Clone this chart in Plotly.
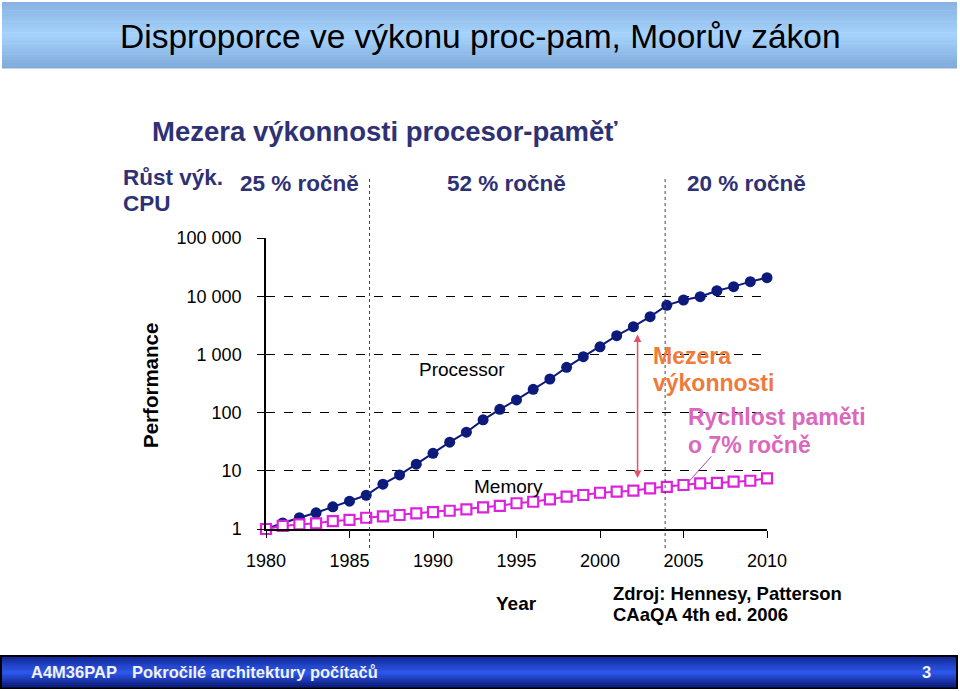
"""Mezera výkonnosti procesor-paměť (Hennessy & Patterson) jako graf v Plotly."""
import numpy as np
import plotly.graph_objects as go

W, H = 960, 691

years = list(range(1980, 2011))

# Výkon relativně k roku 1980
processor = [1, 1.27, 1.56, 1.9, 2.4, 3.0, 3.8, 5.9, 8.5, 13, 20, 31, 46, 75, 114,
             165, 251, 378, 600, 912, 1350, 2100, 2990, 4450, 6970, 8600, 9800,
             12400, 14600, 17800, 20800]
memory = [1, 1.13, 1.2, 1.25, 1.37, 1.43, 1.56, 1.65, 1.74, 1.85, 1.95, 2.06, 2.18,
          2.36, 2.5, 2.77, 2.94, 3.24, 3.6, 3.84, 4.2, 4.37, 4.55, 5.0, 5.3, 5.7,
          6.1, 6.2, 6.5, 6.75, 7.4]

y_ticks = [1, 10, 100, 1000, 10000, 100000]
y_tick_labels = ['1', '10', '100', '1 000', '10 000', '100 000']
x_ticks = list(range(1980, 2011, 5))

era_breaks = [1986.2, 2003.9]
era_labels = ['25 % ročně', '52 % ročně', '20 % ročně']
era_centers = [1982.0, 1994.4, 2008.8]

# šipka mezery a spojnice popisku paměti (rok, výkon)
gap_arrow = dict(x=2002.25, low=7.5, high=2330)
mem_pointer = dict(x0=2005.25, y0=6.2, x1=2006.75, y1=18.7)

NAVY = '#2E3174'
FONT = 'Liberation Sans, Arial, sans-serif'
NARROW = 'Liberation Sans Narrow, Arial Narrow, Liberation Sans, Arial, sans-serif'


def px(x, y):
    return x / W, 1 - y / H


def mix(c1, c2, t):
    a = [int(c1[i:i + 2], 16) for i in (1, 3, 5)]
    b = [int(c2[i:i + 2], 16) for i in (1, 3, 5)]
    return '#' + ''.join(f'{round(a[k] + (b[k] - a[k]) * t):02x}' for k in range(3))


def gradient_bar(x0, y0, x1, y1, top, mid, bottom, steps=24):
    shapes = []
    for i in range(steps):
        t = i / (steps - 1)
        col = mix(top, mid, t * 2) if t < 0.5 else mix(mid, bottom, (t - 0.5) * 2)
        ya = y0 + (y1 - y0) * i / steps
        yb = y0 + (y1 - y0) * (i + 1) / steps + 0.5
        shapes.append(dict(type='rect', xref='paper', yref='paper', layer='below',
                           x0=x0 / W, x1=x1 / W, y0=1 - yb / H, y1=1 - ya / H,
                           fillcolor=col, line=dict(width=0)))
    return shapes


fig = go.Figure()

fig.add_trace(go.Scatter(
    x=years, y=processor, mode='lines+markers', name='Processor',
    line=dict(color='#0C1A7C', width=2),
    marker=dict(symbol='circle', size=11, color='#0C1A7C'),
    cliponaxis=False,
))
fig.add_trace(go.Scatter(
    x=years, y=memory, mode='lines+markers', name='Memory',
    line=dict(color='#DD22DD', width=2),
    marker=dict(symbol='square', size=10, color='white', line=dict(width=2.2, color='#DD22DD')),
    cliponaxis=False,
))

shapes = []
shapes += gradient_bar(2, 2, 957, 68, '#88B3E3', '#A5D3FC', '#80ABDB')
shapes.append(dict(type='rect', xref='paper', yref='paper', x0=0 / W, x1=958 / W,
                   y0=1 - 689 / H, y1=1 - 655 / H, fillcolor='black', line=dict(width=0),
                   layer='below'))
shapes += gradient_bar(2, 657, 956, 687, '#142A9A', '#2E5AF0', '#0E1F80', steps=16)
for xb in era_breaks:
    shapes.append(dict(type='line', xref='x', yref='paper', x0=xb, x1=xb,
                       y0=1 - 548 / H, y1=1 - 176 / H,
                       line=dict(color='#444444', width=1, dash='dot')))

annotations = []


def label(text, x, y, size, color='black', bold=False, xanchor='center', family=FONT, **kw):
    ax, ay = px(x, y)
    if bold:
        text = f'<b>{text}</b>'
    annotations.append(dict(text=text, x=ax, y=ay, xref='paper', yref='paper',
                            xanchor=xanchor, yanchor='middle', showarrow=False,
                            font=dict(size=size, color=color, family=family), **kw))


label('Disproporce ve výkonu proc-pam, Moorův zákon', 480, 37, 33.5, family=NARROW)
label('Mezera výkonnosti procesor-paměť', 150, 132, 27.5, NAVY, True, 'left')
label('Růst výk.', 121, 177, 22.5, NAVY, True, 'left')
label('CPU', 121, 203, 22.5, NAVY, True, 'left')
for txt, xc in zip(era_labels, era_centers):
    annotations.append(dict(text=f'<b>{txt}</b>', x=xc, y=1 - 183 / H, xref='x', yref='paper',
                            xanchor='center', yanchor='middle', showarrow=False,
                            font=dict(size=22.5, color=NAVY, family=FONT)))
label('Performance', 150, 386, 20.5, bold=True, textangle=-90)
label('Processor', 462, 369, 19)
label('Memory', 508, 487, 19)
label('Year', 516, 603, 19, bold=True)
label('Zdroj: Hennesy, Patterson', 611, 593, 18.5, bold=True, xanchor='left')
label('CAaQA 4th ed. 2006', 611, 614, 18.5, bold=True, xanchor='left')
label('Mezera', 651, 356, 23, '#EE7A3C', True, 'left')
label('výkonnosti', 651, 383, 23, '#EE7A3C', True, 'left')
label('Rychlost paměti', 686, 417, 23, '#DA68BC', True, 'left')
label('o 7% ročně', 686, 445, 23, '#DA68BC', True, 'left')
label('A4M36PAP', 29, 672, 16.5, '#F2F2F2', True, 'left', family=NARROW)
label('Pokročilé architektury počítačů', 130, 672, 16.5, '#F2F2F2', True, 'left', family=NARROW)
label('3', 926, 672, 16.5, '#F2F2F2', True, family=NARROW)

annotations.append(dict(
    x=gap_arrow['x'], y=np.log10(gap_arrow['low']), ax=gap_arrow['x'], ay=np.log10(gap_arrow['high']),
    xref='x', yref='y', axref='x', ayref='y', text='', showarrow=True,
    arrowhead=2, arrowside='end+start', arrowsize=1, arrowwidth=1.5, arrowcolor='#E2506A',
))
annotations.append(dict(
    x=mem_pointer['x0'], y=np.log10(mem_pointer['y0']), ax=mem_pointer['x1'], ay=np.log10(mem_pointer['y1']),
    xref='x', yref='y', axref='x', ayref='y', text='', showarrow=True,
    arrowhead=0, arrowwidth=1, arrowcolor='#A050A8',
))

fig.update_layout(
    width=W, height=H,
    margin=dict(l=0, r=0, t=0, b=0, pad=0),
    paper_bgcolor='white', plot_bgcolor='white',
    showlegend=False,
    font=dict(family=FONT, color='black'),
    shapes=shapes,
    annotations=annotations,
    xaxis=dict(
        domain=[266 / W, 767 / W], range=[1980, 2010], automargin=False,
        tickvals=x_ticks, ticks='outside', ticklen=7, tickcolor='black',
        showline=True, linecolor='black', linewidth=1.5,
        showgrid=False, zeroline=False,
        tickfont=dict(size=18, color='black'), ticklabelstandoff=8,
    ),
    yaxis=dict(
        type='log', domain=[1 - 529 / H, 1 - 238 / H], range=[0, 5], automargin=False,
        tickvals=y_ticks, ticktext=y_tick_labels,
        ticks='outside', ticklen=7, tickcolor='black',
        showline=True, linecolor='black', linewidth=1.5,
        showgrid=True, gridcolor='black', gridwidth=1, griddash='dash',
        zeroline=False,
        tickfont=dict(size=18, color='black'), ticklabelstandoff=12,
    ),
)

fig.write_html('out.html', config={'displayModeBar': False},
               post_script="document.body.style.margin='0';")
